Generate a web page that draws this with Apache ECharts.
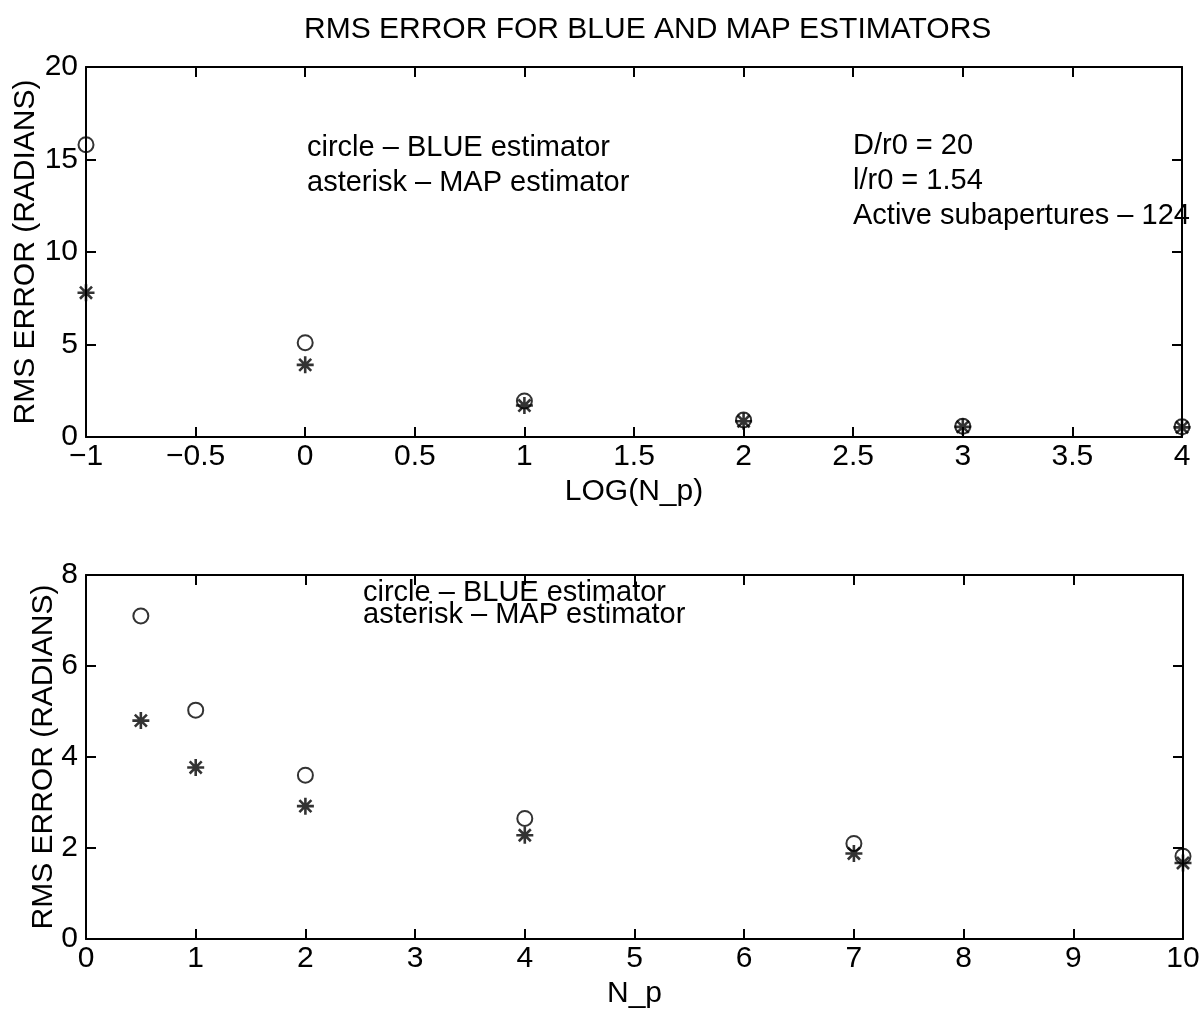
<!DOCTYPE html>
<html>
<head>
<meta charset="utf-8">
<script src="https://cdn.jsdelivr.net/npm/echarts@6/dist/echarts.min.js"></script>
<style>html,body{margin:0;padding:0;background:#fff;}#c{width:1201px;height:1013px;}</style>
</head>
<body>
<div id="c"></div>
<script>
// ---- data ----
var topX = [-1, 0, 1, 2, 3, 4];
var topBlue = [15.8, 5.1, 1.95, 0.92, 0.58, 0.55];
var topMap = [7.8, 3.9, 1.7, 0.85, 0.55, 0.52];
var botX = [0.5, 1, 2, 4, 7, 10];
var botBlue = [7.1, 5.03, 3.6, 2.65, 2.1, 1.82];
var botMap = [4.8, 3.77, 2.92, 2.28, 1.88, 1.67];
var titleText = 'RMS ERROR FOR BLUE AND MAP ESTIMATORS';
var yName = 'RMS ERROR (RADIANS)';
var topXName = 'LOG(N_p)';
var botXName = 'N_p';
var topNotesLeft = ['circle \u2013 BLUE estimator', 'asterisk \u2013 MAP estimator'];
var topNotesRight = ['D/r0 = 20', 'l/r0 = 1.54', 'Active subapertures \u2013 124'];
var botNotes = ['circle \u2013 BLUE estimator', 'asterisk \u2013 MAP estimator'];

function pairs(xs, ys) { return xs.map(function (x, i) { return [x, ys[i]]; }); }

var FONT = 'Liberation Sans';
var FS = 29;     // notes
var FA = 30;     // axis labels / names
var ASTER = 'path://M12,0 L12,24 M0,12 L24,12 M3.5,3.5 L20.5,20.5 M3.5,20.5 L20.5,3.5';
var lineStyle = { color: '#000', width: 2 };

function fmt(v) {
  var s = String(Math.round(v * 100) / 100);
  return s.replace('-', '\u2212');
}

function mainX(grid, min, max, interval, name) {
  return {
    type: 'value', gridIndex: grid, position: 'bottom', min: min, max: max, interval: interval,
    name: name, nameLocation: 'middle', nameGap: 40, nameMoveOverlap: false,
    nameTextStyle: { color: '#000', fontFamily: FONT, fontSize: FA },
    axisLine: { show: true, onZero: false, lineStyle: lineStyle },
    axisTick: { show: true, inside: true, length: 10, lineStyle: lineStyle },
    axisLabel: { color: '#000', fontFamily: FONT, fontSize: FA, margin: 5, formatter: fmt },
    splitLine: { show: false }
  };
}
function mirrorX(grid, min, max, interval) {
  return {
    type: 'value', gridIndex: grid, position: 'top', min: min, max: max, interval: interval,
    axisLine: { show: true, onZero: false, lineStyle: lineStyle },
    axisTick: { show: true, inside: true, length: 10, lineStyle: lineStyle },
    axisLabel: { show: false }, splitLine: { show: false }
  };
}
function mainY(grid, min, max, interval, gap) {
  return {
    type: 'value', gridIndex: grid, position: 'left', min: min, max: max, interval: interval,
    name: yName, nameLocation: 'middle', nameGap: gap, nameRotate: 90, nameMoveOverlap: false,
    nameTextStyle: { color: '#000', fontFamily: FONT, fontSize: FA },
    axisLine: { show: true, onZero: false, lineStyle: lineStyle },
    axisTick: { show: true, inside: true, length: 10, lineStyle: lineStyle },
    axisLabel: { color: '#000', fontFamily: FONT, fontSize: FA, margin: 8, formatter: fmt },
    splitLine: { show: false }
  };
}
function mirrorY(grid, min, max, interval) {
  return {
    type: 'value', gridIndex: grid, position: 'right', min: min, max: max, interval: interval,
    axisLine: { show: true, onZero: false, lineStyle: lineStyle },
    axisTick: { show: true, inside: true, length: 10, lineStyle: lineStyle },
    axisLabel: { show: false }, splitLine: { show: false }
  };
}
function circleSeries(xi, yi, data) {
  return {
    type: 'scatter', xAxisIndex: xi, yAxisIndex: yi, data: data, clip: false,
    symbol: 'circle', symbolSize: 15,
    itemStyle: { color: 'rgba(0,0,0,0)', borderColor: '#000', borderWidth: 2 },
    silent: true, z: 3
  };
}
function asterSeries(xi, yi, data) {
  return {
    type: 'scatter', xAxisIndex: xi, yAxisIndex: yi, data: data, clip: false,
    symbol: ASTER, symbolSize: 17,
    itemStyle: { color: 'rgba(0,0,0,0)', borderColor: '#000', borderWidth: 2.6 },
    silent: true, z: 4
  };
}
function textAt(x, y, s) {
  return { type: 'text', x: x, y: y, style: { text: s, fill: '#000', font: FS + 'px "' + FONT + '"', verticalAlign: 'middle', align: 'left' } };
}

var graphics = [];
topNotesLeft.forEach(function (s, i) { graphics.push(textAt(307, 148 + i * 35, s)); });
topNotesRight.forEach(function (s, i) { graphics.push(textAt(853, 146 + i * 35, s)); });
botNotes.forEach(function (s, i) { graphics.push(textAt(363, 593 + i * 22, s)); });

var chart = echarts.init(document.getElementById('c'));
chart.setOption({
  backgroundColor: '#fff',
  animation: false,
  title: { text: titleText, left: 299, top: 10, textStyle: { color: '#000', fontFamily: FONT, fontSize: 30, fontWeight: 'normal' } },
  grid: [
    { left: 86, top: 67, width: 1096, height: 370, containLabel: false, outerBoundsMode: 'none' },
    { left: 86, top: 575, width: 1097, height: 364, containLabel: false, outerBoundsMode: 'none' }
  ],
  xAxis: [
    mainX(0, -1, 4, 0.5, topXName),
    mirrorX(0, -1, 4, 0.5),
    mainX(1, 0, 10, 1, botXName),
    mirrorX(1, 0, 10, 1)
  ],
  yAxis: [
    mainY(0, 0, 20, 5, 45),
    mirrorY(0, 0, 20, 5),
    mainY(1, 0, 8, 2, 27),
    mirrorY(1, 0, 8, 2)
  ],
  series: [
    circleSeries(0, 0, pairs(topX, topBlue)),
    asterSeries(0, 0, pairs(topX, topMap)),
    circleSeries(2, 2, pairs(botX, botBlue)),
    asterSeries(2, 2, pairs(botX, botMap))
  ],
  graphic: graphics
});
</script>
</body>
</html>
